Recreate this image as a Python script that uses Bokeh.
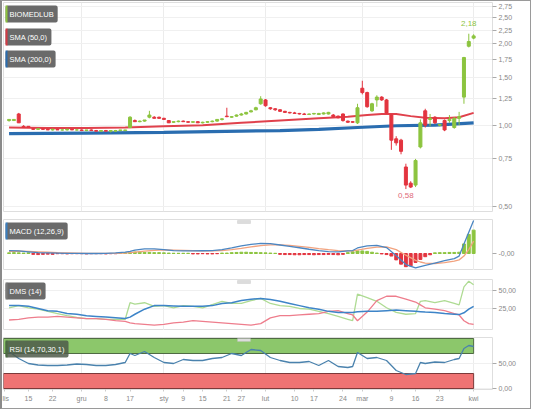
import numpy as np
from bokeh.plotting import figure
from bokeh.layouts import column
from bokeh.models import (ColumnDataSource, FixedTicker, Range1d, Label,
                          BoxAnnotation, CustomJSTickFormatter)
from bokeh.core.properties import value
from bokeh.embed import file_html
from bokeh.resources import INLINE

# ---------------- data (trading-day index 0 = 8 Nov 2019) ----------------
o = [1.04, 1.04, 1.10, 0.99, 0.99, 0.97, 0.965, 0.97, 0.965, 0.96,
     0.965, 0.96, 0.96, 0.965, 0.96, 0.96, 0.955, 0.96, 0.955, 0.95,
     0.955, 0.95, 0.95, 0.955, 0.955, 0.98, 1.04, 1.03, 1.035, 1.07,
     1.07, 1.07, 1.06, 1.04, 1.025, 1.03, 1.035, 1.03, 1.025, 1.03,
     1.02, 1.025, 1.03, 1.035, 1.05, 1.08, 1.07, 1.08, 1.09, 1.10,
     1.12, 1.14, 1.20, 1.24, 1.16, 1.15, 1.14, 1.125, 1.115, 1.11,
     1.105, 1.10, 1.095, 1.10, 1.095, 1.10, 1.10, 1.09, 1.08, 1.10,
     1.035, 1.03, 1.02, 1.37, 1.32, 1.13, 1.24, 1.27, 1.24, 1.09,
     0.89, 0.88, 0.70, 0.61, 0.60, 0.83, 1.13, 1.05, 1.07, 1.00,
     1.04, 1.04, 0.98, 1.06, 1.27, 1.96, 2.10]
h = [1.05, 1.05, 1.11, 1.00, 0.99, 0.975, 0.97, 0.975, 0.97, 0.97,
     0.97, 0.965, 0.97, 0.97, 0.965, 0.965, 0.96, 0.965, 0.96, 0.955,
     0.96, 0.955, 0.96, 0.96, 0.96, 1.08, 1.05, 1.04, 1.045, 1.13,
     1.08, 1.075, 1.065, 1.045, 1.03, 1.04, 1.04, 1.035, 1.03, 1.035,
     1.03, 1.035, 1.04, 1.05, 1.06, 1.16, 1.08, 1.095, 1.11, 1.12,
     1.14, 1.17, 1.28, 1.25, 1.165, 1.155, 1.145, 1.13, 1.12, 1.12,
     1.11, 1.11, 1.105, 1.11, 1.11, 1.115, 1.12, 1.10, 1.085, 1.105,
     1.04, 1.035, 1.20, 1.46, 1.33, 1.21, 1.29, 1.28, 1.25, 1.10,
     0.91, 0.89, 0.72, 0.62, 0.75, 1.05, 1.15, 1.10, 1.08, 1.01,
     1.05, 1.09, 1.07, 1.12, 1.79, 2.18, 2.17]
l = [1.03, 1.04, 1.02, 0.98, 0.98, 0.96, 0.96, 0.96, 0.96, 0.955,
     0.96, 0.955, 0.955, 0.96, 0.955, 0.955, 0.95, 0.955, 0.95, 0.945,
     0.95, 0.94, 0.945, 0.95, 0.95, 0.975, 1.03, 1.025, 1.03, 1.06,
     1.06, 1.055, 1.05, 1.02, 1.02, 1.025, 1.03, 1.02, 1.02, 1.02,
     1.015, 1.02, 1.025, 1.03, 1.04, 1.07, 1.065, 1.075, 1.085, 1.095,
     1.115, 1.135, 1.19, 1.17, 1.14, 1.13, 1.12, 1.11, 1.105, 1.10,
     1.095, 1.09, 1.09, 1.095, 1.09, 1.095, 1.095, 1.07, 1.06, 1.03,
     1.02, 1.02, 1.01, 1.30, 1.16, 1.12, 1.17, 1.23, 1.10, 0.81,
     0.84, 0.78, 0.58, 0.585, 0.59, 0.82, 0.98, 0.99, 1.01, 0.99,
     0.95, 1.02, 0.97, 1.00, 1.20, 1.94, 2.08]
c = [1.05, 1.05, 1.02, 0.98, 0.98, 0.965, 0.97, 0.965, 0.96, 0.965,
     0.96, 0.96, 0.965, 0.96, 0.96, 0.955, 0.96, 0.955, 0.95, 0.955,
     0.95, 0.955, 0.955, 0.96, 0.96, 1.07, 1.03, 1.035, 1.045, 1.09,
     1.06, 1.06, 1.05, 1.02, 1.03, 1.035, 1.03, 1.025, 1.03, 1.02,
     1.025, 1.03, 1.035, 1.05, 1.055, 1.075, 1.075, 1.09, 1.10, 1.115,
     1.13, 1.16, 1.25, 1.18, 1.15, 1.14, 1.125, 1.115, 1.11, 1.105,
     1.10, 1.095, 1.10, 1.105, 1.105, 1.11, 1.115, 1.075, 1.065, 1.04,
     1.025, 1.025, 1.16, 1.32, 1.17, 1.20, 1.27, 1.24, 1.11, 0.88,
     0.86, 0.80, 0.60, 0.59, 0.74, 1.02, 1.00, 1.06, 1.02, 1.005,
     0.96, 1.05, 1.06, 1.075, 1.78, 2.04, 2.14]

sma50_x = [0, 8, 16, 24, 32, 40, 48, 56, 64, 70, 74, 77, 80, 83, 86, 90, 93, 96]
sma50 = [0.98, 0.975, 0.975, 0.98, 0.99, 1.00, 1.02, 1.04, 1.06, 1.075,
         1.09, 1.10, 1.10, 1.08, 1.065, 1.06, 1.07, 1.11]
sma200_x = [0, 16, 32, 48, 56, 64, 72, 80, 88, 96]
sma200 = [0.93, 0.935, 0.94, 0.95, 0.955, 0.965, 0.98, 0.995, 1.00, 1.02]

ind_x = [0, 2, 4, 6, 8, 10, 12, 14, 16, 18, 20, 22, 24, 25, 26, 28, 30, 32,
         34, 36, 38, 40, 42, 44, 46, 48, 50, 52, 54, 56, 58, 60, 62, 64, 66,
         68, 70, 71, 72, 74, 76, 78, 80, 82, 84, 85, 86, 88, 90, 92, 93, 94,
         95, 96]
macd = [0.014, 0.012, 0.008, 0.004, 0.003, 0.002, 0.001, 0.001, 0.0, 0.0,
        0.001, 0.003, 0.006, 0.010, 0.016, 0.022, 0.022, 0.018, 0.014, 0.012,
        0.012, 0.013, 0.014, 0.018, 0.026, 0.036, 0.043, 0.048, 0.046, 0.040,
        0.034, 0.027, 0.020, 0.014, 0.009, 0.008, 0.012, 0.014, 0.026, 0.036,
        0.038, 0.028, -0.010, -0.052, -0.068, -0.062, -0.056, -0.045, -0.034,
        -0.024, -0.012, 0.045, 0.100, 0.155]
signal = [0.010, 0.011, 0.010, 0.008, 0.006, 0.004, 0.003, 0.002, 0.001, 0.001,
          0.001, 0.001, 0.002, 0.004, 0.006, 0.011, 0.015, 0.017, 0.016, 0.015,
          0.014, 0.013, 0.013, 0.014, 0.018, 0.024, 0.031, 0.037, 0.041, 0.041,
          0.038, 0.034, 0.029, 0.023, 0.018, 0.014, 0.012, 0.012, 0.016, 0.024,
          0.030, 0.031, 0.018, -0.008, -0.032, -0.040, -0.045, -0.047, -0.043,
          -0.036, -0.030, -0.012, 0.018, 0.058]
hist = [0.003, 0.004, 0.003, 0.002, 0.003, -0.004, -0.005, -0.004, -0.003, -0.004,
        -0.001, -0.001, -0.002, -0.001, -0.001, -0.001, -0.002, -0.001, -0.001, -0.001,
        -0.002, -0.001, -0.001, 0.001, 0.004, 0.006, 0.007, 0.006, 0.005, 0.005,
        0.004, 0.004, 0.003, 0.002, 0.001, 0.001, 0.001, 0.001, -0.002, -0.002,
        -0.001, -0.002, -0.002, -0.001, 0.002, 0.002, 0.004, 0.005, 0.006, 0.006,
        0.005, 0.005, 0.004, 0.003, 0.002, 0.001, -0.004, -0.005, -0.005, -0.006,
        -0.006, -0.005, -0.005, -0.006, -0.005, -0.005, -0.004, -0.005, -0.006, -0.004,
        0.004, 0.008, 0.012, 0.012, 0.010, 0.006, 0.002, -0.002, -0.005, -0.012,
        -0.030, -0.050, -0.062, -0.058, -0.042, -0.028, -0.015, -0.006, 0.003, 0.004,
        0.004, 0.005, 0.005, 0.006, 0.045, 0.090, 0.110]
adx = [29, 29, 28, 25, 22, 21, 18, 17, 15, 14, 13, 12, 11, 13, 17, 24, 29, 29,
       28.5, 28, 28, 28, 29, 32, 33, 36, 38, 39, 37.5, 35, 32, 29, 26, 24, 21,
       19.5, 19.5, 19.5, 20.5, 21, 21, 22, 23, 22, 21, 20.5, 20, 19.5, 18, 17,
       16.5, 19, 24, 28]
di_plus = [26, 29, 26, 24, 21, 18, 15, 12.5, 11, 11, 10, 10, 10, 33, 31, 33, 28,
           29, 26, 29, 28, 26, 30.5, 35, 32, 32, 36, 39, 32, 29, 28, 25, 24, 21,
           18, 14, 10, 8, 45, 40, 35, 26, 19.5, 17, 18, 35, 36, 33, 36, 32, 30,
           55, 63, 58]
di_minus = [9, 10, 12, 13, 13, 14, 13, 12, 11, 11, 10, 8, 7, 5, 4, 3, 2, 3, 5, 6,
            8, 7, 6, 5, 4, 3, 2, 4, 12, 15, 15, 16, 17, 18, 21, 22, 18, 16, 8, 20,
            36, 42, 42, 38, 34, 30, 26, 24, 22, 18, 16, 8, 4, 3]
rsi = [74, 60, 50, 47, 46, 46, 47, 49, 48, 46, 46, 48, 52, 70, 66, 74, 62, 52,
       50, 58, 56, 56, 60, 62, 70, 66, 78, 76, 62, 56, 52, 52, 54, 46, 56, 44,
       42, 44, 72, 60, 62, 56, 36, 28, 30, 52, 50, 53, 52, 58, 60, 80, 86, 84]
rsi_levels = [70, 30]

tick_pos = [-1, 4, 9, 15, 20, 25, 32, 36, 40, 45, 48, 53, 59, 63, 69, 73, 79, 84, 89, 96]
tick_lab = ["lis", "15", "22", "gru", "8", "17", "sty", "9", "15", "21", "27",
            "lut", "10", "17", "24", "mar", "9", "16", "23", "kwi"]
month_pos = [15, 32, 53, 73, 96]
price_ticks = [0.5, 0.75, 1.0, 1.25, 1.5, 1.75, 2.0, 2.25, 2.5, 2.75]

# ---------------- styling ----------------
FONT = "Liberation Sans"
GREEN, RED = "#8cc43f", "#e3343f"
W, AXL, AXR = 528, 1, 38
x_start, x_end = -1.15, 99.9
xr = Range1d(x_start, x_end)
comma_fmt = CustomJSTickFormatter(code="return tick.toFixed(2).replace('.', ',');")


def make_fig(h, yr, top, bottom, ytype="linear", xaxis=False):
    p = figure(width=W, height=h, x_range=xr, y_range=yr, y_axis_type=ytype,
               y_axis_location="right", x_axis_location="below" if xaxis else None,
               output_backend="svg", toolbar_location=None,
               min_border_left=AXL, min_border_right=AXR,
               min_border_top=top, min_border_bottom=bottom)
    p.outline_line_color = "#dedede"
    p.background_fill_color = "white"
    p.border_fill_color = "white"
    ax = p.yaxis[0]
    ax.axis_line_color = None
    ax.major_tick_line_color = "#aaaaaa"
    ax.major_tick_out = 4
    ax.major_tick_in = 0
    ax.minor_tick_line_color = None
    ax.major_label_text_font = FONT
    ax.major_label_text_font_size = "7px"
    ax.major_label_text_color = "#888888"
    ax.major_label_standoff = 2
    p.xgrid.ticker = FixedTicker(ticks=month_pos)
    p.xgrid.grid_line_color = "#ececec"
    p.ygrid.grid_line_color = "#f0f0f0"
    return p


def tag(p, text, frame_h, top, strip, bg="#6a6a6a", alpha=1.0):
    p.add_layout(Label(x=2, y=frame_h - top, x_units="screen", y_units="screen",
                       text=text, anchor="top_left", text_font=FONT,
                       text_font_size="7.5px", text_color="white",
                       background_fill_color=bg, background_fill_alpha=alpha,
                       padding=4, border_radius=2))
    p.add_layout(BoxAnnotation(left=2, right=4, top=frame_h - top,
                               bottom=frame_h - top - 17,
                               left_units="screen", right_units="screen",
                               top_units="screen", bottom_units="screen",
                               fill_color=strip, fill_alpha=1, line_alpha=0))


def handle(p, frame_h):
    p.add_layout(BoxAnnotation(left=234, right=247, top=frame_h - 1, bottom=frame_h - 4,
                               left_units="screen", right_units="screen",
                               top_units="screen", bottom_units="screen",
                               fill_color="#dcdcdc", fill_alpha=1,
                               line_color="#b8b8b8", line_width=1))


# ---------------- price panel ----------------
PT, PB, PH = 1, 4, 214
pfh = PH - PT - PB
p1 = make_fig(PH, Range1d(0.479, 2.845), PT, PB, ytype="log")
p1.yaxis[0].ticker = FixedTicker(ticks=price_ticks)
p1.yaxis[0].formatter = comma_fmt
p1.ygrid.ticker = FixedTicker(ticks=price_ticks)

idx = list(range(len(c)))
colors = [GREEN if cc >= oo else RED for oo, cc in zip(o, c)]
src = ColumnDataSource(dict(x=idx, o=o, h=h, l=l, c=c,
                            top=[max(a, b) for a, b in zip(o, c)],
                            bot=[min(a, b) for a, b in zip(o, c)], col=colors))
p1.line(sma200_x, sma200, line_color="#2a6db0", line_width=3.2)
p1.line(sma50_x, sma50, line_color="#e0414c", line_width=2)
p1.segment(x0="x", y0="l", x1="x", y1="h", source=src, line_color="col", line_width=1)
p1.vbar(x="x", width=0.62, top="top", bottom="bot", source=src,
        fill_color="col", line_color="col", line_width=1)

imax = int(np.argmax(h))
imin = int(np.argmin(l))
p1.text(x=[imax], y=[h[imax]], text=[f"{h[imax]:.2f}".replace(".", ",")],
        text_font=value(FONT), text_font_size="8px", text_color=GREEN,
        text_align="center", text_baseline="bottom", y_offset=-8)
p1.text(x=[imin], y=[l[imin]], text=[f"{l[imin]:.2f}".replace(".", ",")],
        text_font=value(FONT), text_font_size="8px", text_color="#e06a78",
        text_align="center", text_baseline="top", y_offset=4)
tag(p1, "BIOMEDLUB", pfh, 3, GREEN)
tag(p1, "SMA (50,0)", pfh, 26, "#d33a45")
tag(p1, "SMA (200,0)", pfh, 48, "#2a6db0")

# ---------------- MACD panel ----------------
MT, MH = 4, 55
mfh = MH - MT
p2 = make_fig(MH, Range1d(-0.08, 0.16), MT, 0)
p2.yaxis[0].ticker = FixedTicker(ticks=[0])
p2.yaxis[0].formatter = CustomJSTickFormatter(code="return '-0,00';")
p2.ygrid.grid_line_color = None
hcol = [GREEN if v >= 0 else RED for v in hist]
p2.vbar(x=idx, top=hist, bottom=0, width=0.6, fill_color=hcol, line_color=hcol)
p2.line(ind_x, signal, line_color="#f2a27e", line_width=1.3)
p2.line(ind_x, macd, line_color="#4b86c2", line_width=1.3)
tag(p2, "MACD (12,26,9)", mfh, 3, "#3a7fc0")
handle(p2, mfh)

# ---------------- DMS panel ----------------
DT, DH = 9, 60
dfh = DH - DT
p3 = make_fig(DH, Range1d(-5.6, 65.3), DT, 0)
p3.yaxis[0].ticker = FixedTicker(ticks=[25, 50])
p3.yaxis[0].formatter = comma_fmt
p3.ygrid.ticker = FixedTicker(ticks=[25, 50])
p3.line(ind_x, di_plus, line_color="#aedb93", line_width=1.3)
p3.line(ind_x, di_minus, line_color="#ee7d8c", line_width=1.3)
p3.line(ind_x, adx, line_color="#3d84c8", line_width=1.5)
tag(p3, "DMS (14)", dfh, 3, "#7a7a7a")
handle(p3, dfh)

# ---------------- RSI panel ----------------
RT, RB, RH = 7, 19, 78
rfh = RH - RT - RB
p4 = make_fig(RH, Range1d(-2, 102), RT, RB, xaxis=True)
p4.yaxis[0].ticker = FixedTicker(ticks=[0, 50])
p4.yaxis[0].formatter = comma_fmt
p4.ygrid.ticker = FixedTicker(ticks=[0, 50])
last = idx[-1]
p4.quad(left=[x_start], right=[last], bottom=[rsi_levels[0]], top=[100],
        fill_color="#8cc76b", line_color="#4f6b43", line_width=1)
p4.quad(left=[x_start], right=[last], bottom=[0], top=[rsi_levels[1]],
        fill_color="#ef7373", line_color="#7c3a3a", line_width=1)
p4.line(ind_x, rsi, line_color="#4a82ad", line_width=1.3)
tag(p4, "RSI (14,70,30,1)", rfh, 3, "#4b6a43", bg="#4e5a4a", alpha=0.85)
handle(p4, rfh)
xa = p4.xaxis[0]
xa.ticker = FixedTicker(ticks=tick_pos)
xa.major_label_overrides = {k: v for k, v in zip(tick_pos, tick_lab)}
xa.axis_line_color = None
xa.major_tick_line_color = "#cccccc"
xa.major_tick_out = 2
xa.major_tick_in = 0
xa.minor_tick_line_color = None
xa.major_label_text_font = FONT
xa.major_label_text_font_size = "7px"
xa.major_label_text_color = "#888888"
xa.major_label_standoff = 3

layout = column(p1, p2, p3, p4, spacing=0,
                styles={"border": "1px solid #9a9a9a", "border-left": "2px solid #8a8a8a"})
open("out.html", "w").write(file_html(layout, INLINE))
